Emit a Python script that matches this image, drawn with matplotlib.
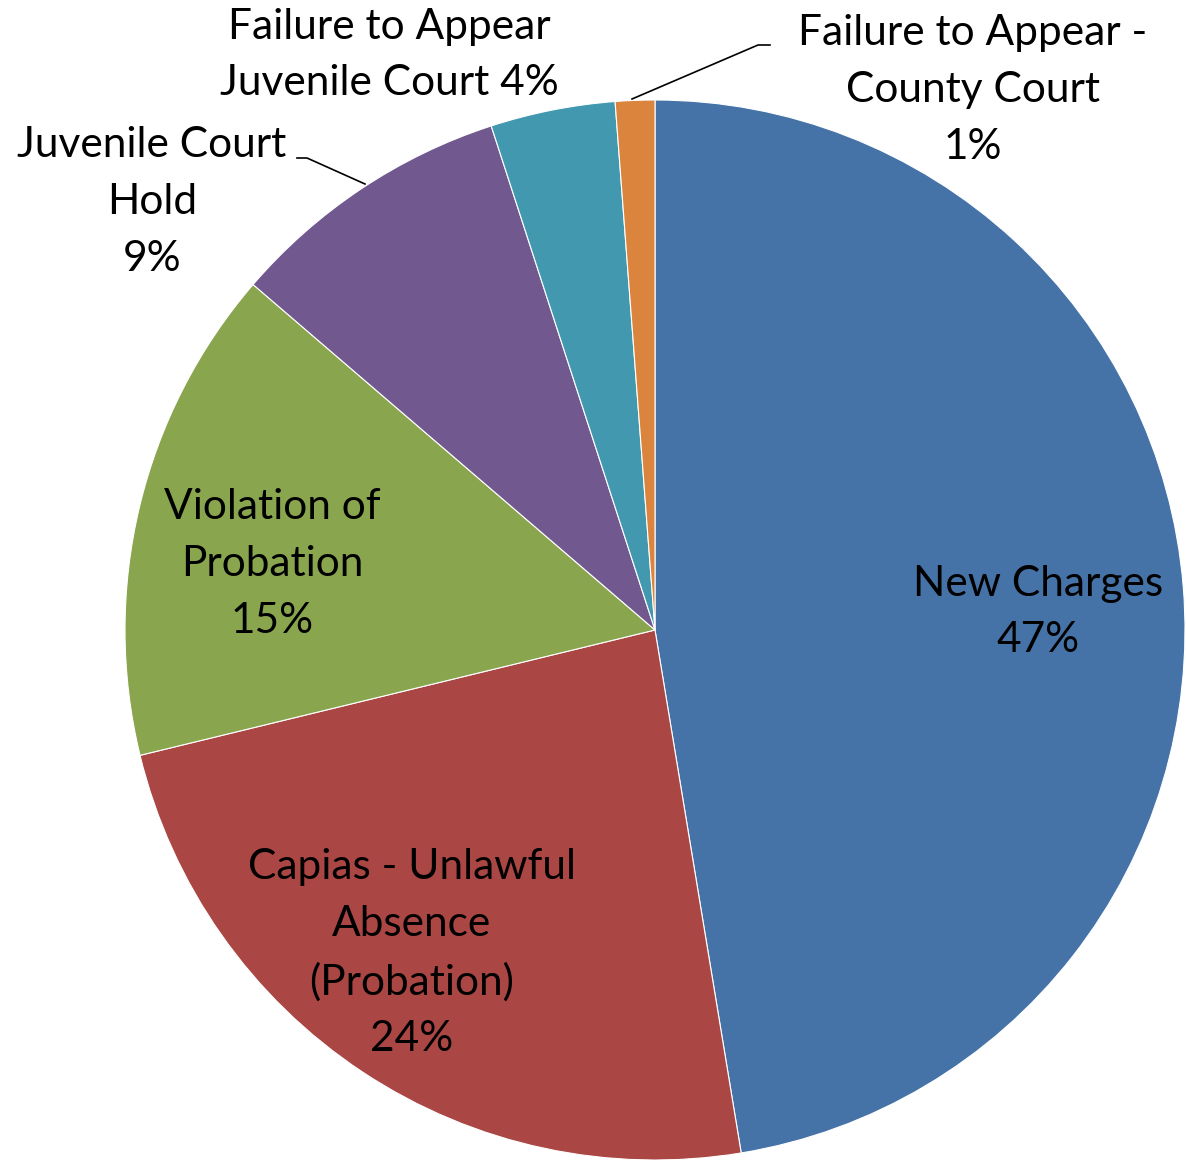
import matplotlib
matplotlib.use("Agg")
import matplotlib.pyplot as plt
import numpy as np

categories = ["New Charges", "Capias - Unlawful\nAbsence\n(Probation)", "Violation of\nProbation",
              "Juvenile Court\nHold", "Failure to Appear\nJuvenile Court", "Failure to Appear -\nCounty Court"]
values = [47.4, 23.8, 15.1, 8.7, 3.8, 1.2]
colors = ["#4572A7", "#AA4643", "#89A54E", "#71588F", "#4198AF", "#DB843D"]

W, H = 1186, 1160
fig = plt.figure(figsize=(W / 100, H / 100), dpi=100)
cx, cy, r = 655, 630, 530
ax = fig.add_axes([(cx - r) / W, (H - cy - r) / H, 2 * r / W, 2 * r / H])
wedges, _ = ax.pie(values, colors=colors, startangle=90, counterclock=False, radius=1.0,
                   wedgeprops=dict(edgecolor="white", linewidth=0.8))
ax.set_xlim(-1, 1)
ax.set_ylim(-1, 1)
ax.set_aspect("equal")
ax.axis("off")

total = sum(values)
pcts = [f"{round(v / total * 100):d}%" for v in values]

def px(x, y):
    return ((x - cx) / r, (cy - y) / r)

font = dict(family=["Lato", "DejaVu Sans"], fontsize=30.5, color="black", linespacing=1.6)
# label centre positions (pixels)
label_pos = [(1038, 612), (412, 953), (272, 564), (152, 202), (389, 55), (973, 90)]
for i, (cat, pct) in enumerate(zip(categories, pcts)):
    x, y = px(*label_pos[i])
    if i == 4:
        txt = cat + " " + pct
    else:
        txt = cat + "\n" + pct
    ax.text(x, y, txt, ha="center", va="center", clip_on=False, **font)

# leader lines
for pts in ([(297, 158), (307, 158), (365, 184)], [(632, 99), (758, 45), (770, 45)]):
    xs, ys = zip(*[px(a, b) for a, b in pts])
    ax.plot(xs, ys, color="black", lw=1.2, clip_on=False)

fig.savefig("out.png", dpi=100)
